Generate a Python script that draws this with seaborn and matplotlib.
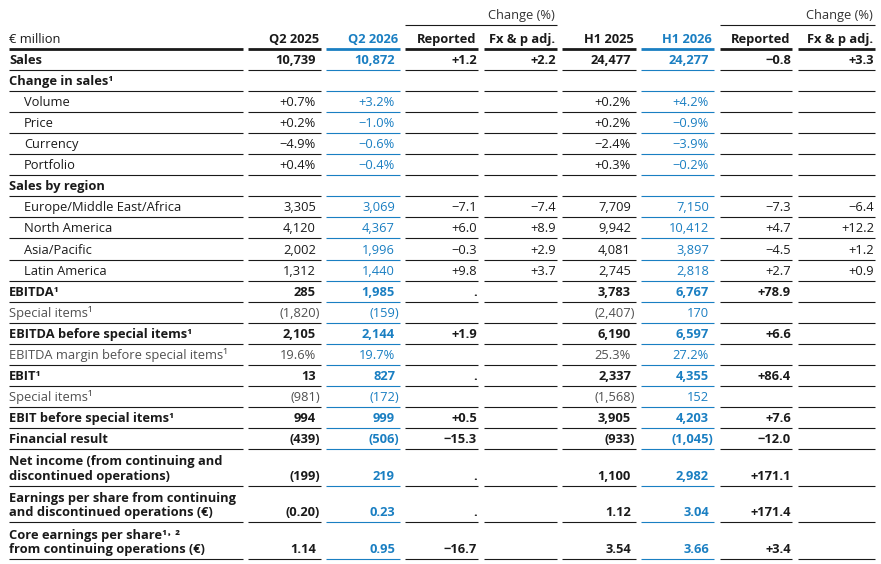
import numpy as np
import pandas as pd
import seaborn as sns
import matplotlib.pyplot as plt

# table content
labels = [
    "Sales", "Change in sales¹", "Volume", "Price", "Currency", "Portfolio",
    "Sales by region", "Europe/Middle East/Africa", "North America", "Asia/Pacific",
    "Latin America", "EBITDA¹", "Special items¹", "EBITDA before special items¹",
    "EBITDA margin before special items¹", "EBIT¹", "Special items¹",
    "EBIT before special items¹", "Financial result",
    "Net income (from continuing and\ndiscontinued operations)",
    "Earnings per share from continuing\nand discontinued operations (€)",
    "Core earnings per share¹˒ ²\nfrom continuing operations (€)",
]
q2_2025 = ["10,739", "", "+0.7%", "+0.2%", "−4.9%", "+0.4%", "", "3,305", "4,120", "2,002",
           "1,312", "285", "(1,820)", "2,105", "19.6%", "13", "(981)", "994", "(439)",
           "(199)", "(0.20)", "1.14"]
q2_2026 = ["10,872", "", "+3.2%", "−1.0%", "−0.6%", "−0.4%", "", "3,069", "4,367", "1,996",
           "1,440", "1,985", "(159)", "2,144", "19.7%", "827", "(172)", "999", "(506)",
           "219", "0.23", "0.95"]
q2_rep = ["+1.2", "", "", "", "", "", "", "−7.1", "+6.0", "−0.3", "+9.8", ".", "", "+1.9",
          "", ".", "", "+0.5", "−15.3", ".", ".", "−16.7"]
q2_fx = ["+2.2", "", "", "", "", "", "", "−7.4", "+8.9", "+2.9", "+3.7", "", "", "", "",
         "", "", "", "", "", "", ""]
h1_2025 = ["24,477", "", "+0.2%", "+0.2%", "−2.4%", "+0.3%", "", "7,709", "9,942", "4,081",
           "2,745", "3,783", "(2,407)", "6,190", "25.3%", "2,337", "(1,568)", "3,905",
           "(933)", "1,100", "1.12", "3.54"]
h1_2026 = ["24,277", "", "+4.2%", "−0.9%", "−3.9%", "−0.2%", "", "7,150", "10,412", "3,897",
           "2,818", "6,767", "170", "6,597", "27.2%", "4,355", "152", "4,203", "(1,045)",
           "2,982", "3.04", "3.66"]
h1_rep = ["−0.8", "", "", "", "", "", "", "−7.3", "+4.7", "−4.5", "+2.7", "+78.9", "",
          "+6.6", "", "+86.4", "", "+7.6", "−12.0", "+171.1", "+171.4", "+3.4"]
h1_fx = ["+3.3", "", "", "", "", "", "", "−6.4", "+12.2", "+1.2", "+0.9", "", "", "", "",
         "", "", "", "", "", "", ""]
col_headers = ["Q2 2025", "Q2 2026", "Reported", "Fx & p adj.",
               "H1 2025", "H1 2026", "Reported", "Fx & p adj."]
group_header = "Change (%)"
unit_label = "€ million"

# row styles: b = bold, i = indented, g = grey
row_kind = ["b", "b", "i", "i", "i", "i", "b", "i", "i", "i", "i", "b", "g", "b", "g",
            "b", "g", "b", "b", "b", "b", "b"]

df = pd.DataFrame({"label": labels, "q2_2025": q2_2025, "q2_2026": q2_2026,
                   "q2_rep": q2_rep, "q2_fx": q2_fx, "h1_2025": h1_2025,
                   "h1_2026": h1_2026, "h1_rep": h1_rep, "h1_fx": h1_fx,
                   "kind": row_kind})
value_cols = ["q2_2025", "q2_2026", "q2_rep", "q2_fx", "h1_2025", "h1_2026", "h1_rep", "h1_fx"]

sns.set_theme(style="white")
plt.rcParams["font.family"] = ["Open Sans", "DejaVu Sans"]

BLUE = "#1a7fc2"
BLACK = "#1a1a1a"
GREY = "#505050"
FS = 9.3

fig = plt.figure(figsize=(8.81, 5.64), dpi=100)
ax = fig.add_axes([0, 0, 1, 1])
ax.set_xlim(0, 881)
ax.set_ylim(564, 0)
ax.axis("off")

# column geometry in pixels
lab_left, lab_right = 9, 243
col_left = [248, 326, 405, 484, 562, 641, 720, 798]
col_right = [321, 400, 478, 557, 636, 714, 792, 875]
is_blue = [False, True, False, False, False, True, False, False]
is_change = [False, False, True, True, False, False, True, True]

single_h = 400 / 19
double_h = 110 / 3
header_bottom = 49

heights = [double_h if "\n" in lab else single_h for lab in df["label"]]
tops = header_bottom + np.concatenate([[0], np.cumsum(heights)[:-1]])
bottoms = tops + np.array(heights)

# header
ax.text(lab_left, 43, unit_label, fontsize=FS, color=BLACK, va="baseline")
for j, h in enumerate(col_headers):
    ax.text(col_right[j] - 2, 43, h, fontsize=FS, fontweight="bold",
            color=BLUE if is_blue[j] else BLACK, ha="right", va="baseline")
for a, b in [(2, 3), (6, 7)]:
    ax.text(col_right[b] - 2, 19, group_header, fontsize=FS, color="#333333",
            ha="right", va="baseline")
    ax.plot([col_left[a], col_right[b]], [25, 25], color=BLACK, lw=0.8,
            solid_capstyle="butt")

# thick header rule
ax.plot([lab_left, lab_right], [header_bottom, header_bottom], color=BLACK, lw=2.0,
        solid_capstyle="butt")
for j in range(8):
    ax.plot([col_left[j], col_right[j]], [header_bottom, header_bottom],
            color=BLUE if is_blue[j] else BLACK, lw=2.0, solid_capstyle="butt")

# body
for i, row in df.iterrows():
    kind = row["kind"]
    weight = "bold" if kind == "b" else "normal"
    txt_col = GREY if kind == "g" else BLACK
    x_lab = lab_left + (15 if kind == "i" else 0)
    base = bottoms[i] - 6
    lines = row["label"].split("\n")
    for k, line in enumerate(reversed(lines)):
        ax.text(x_lab, base - 14.5 * k, line, fontsize=FS, fontweight=weight,
                color=txt_col, va="baseline")
    for j, c in enumerate(value_cols):
        s = row[c]
        if s:
            if is_change[j] or s.endswith(")"):
                pad = 1
            else:
                pad = 5
            color = BLUE if is_blue[j] else txt_col
            ax.text(col_right[j] - pad, base, s, fontsize=FS, fontweight=weight,
                    color=color, ha="right", va="baseline")
    # row rules
    y = bottoms[i]
    ax.plot([lab_left, lab_right], [y, y], color=BLACK, lw=0.8, solid_capstyle="butt")
    for j in range(8):
        ax.plot([col_left[j], col_right[j]], [y, y],
                color=BLUE if is_blue[j] else BLACK, lw=0.8, solid_capstyle="butt")

fig.savefig("out.png", dpi=100)
